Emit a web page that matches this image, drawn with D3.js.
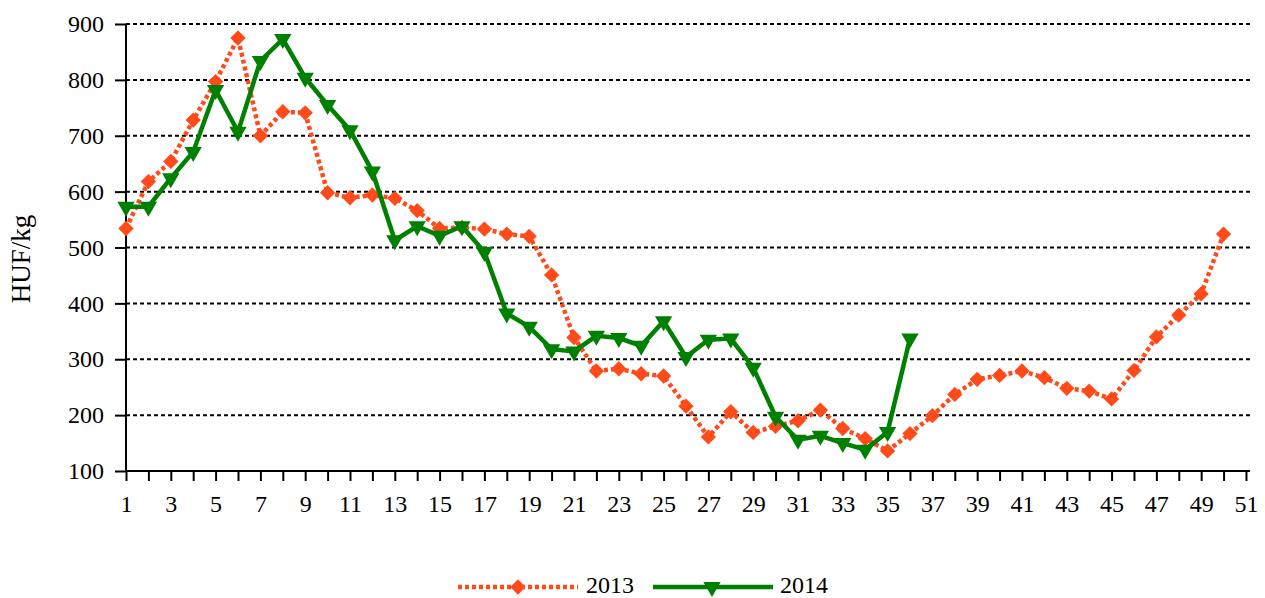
<!DOCTYPE html>
<html><head><meta charset="utf-8">
<script src="https://cdn.jsdelivr.net/npm/d3@7"></script>
<style>
html,body{margin:0;padding:0;background:#fff;}
text{font-family:"Liberation Serif","Times New Roman",Times,serif;fill:#000;}
</style></head>
<body><svg id="chart" width="1265" height="598"></svg>
<script>
const weeks2013 = d3.range(1, 51);
const values2013 = [534,618,654,728,797,875,700,743,741,598,
  589,594,588,566,534,536,533,524,520,451,
  339,279,283,274,270,216,161,206,169,180,
  190,209,176,158,136,167,199,237,264,271,
  279,267,248,243,229,280,340,379,417,524];
const weeks2014 = d3.range(1, 37);
const values2014 = [573,573,624,671,782,707,834,873,804,755,
  710,636,513,538,521,538,492,382,358,318,
  314,342,338,324,368,304,335,337,285,197,
  156,163,150,138,170,337];
const xTicks = d3.range(1, 52);
const xLabels = d3.range(1, 52, 2);
const yTicks = [100,200,300,400,500,600,700,800,900];
const seriesNames = ["2013", "2014"];

const svg = d3.select("#chart");
const x = d3.scaleLinear().domain([1, 51.18]).range([126, 1250]);
const y = d3.scaleLinear().domain([100, 900]).range([471, 24]);

// gridlines
svg.append("g").selectAll("line").data(yTicks.filter(d => d > 100)).join("line")
  .attr("x1", x(1)).attr("x2", x(51.18))
  .attr("y1", d => y(d)).attr("y2", d => y(d))
  .attr("stroke", "#000").attr("stroke-width", 2).attr("stroke-dasharray", "4,3");

// y axis
const yAxis = svg.append("g").attr("transform", `translate(${x(1)},0)`)
  .call(d3.axisLeft(y).tickValues(yTicks).tickSize(11).tickPadding(11).tickFormat(d3.format("d")));
yAxis.select(".domain").attr("stroke-width", 2).attr("d", `M0,${y(900)}V${y(100)}`);
yAxis.selectAll(".tick line").attr("stroke-width", 2);
yAxis.selectAll(".tick text").style("font-size", "24px").attr("font-family", null);

// x axis
const xAxis = svg.append("g").attr("transform", `translate(0,${y(100)})`)
  .call(d3.axisBottom(x).tickValues(xTicks).tickSize(10).tickPadding(14)
    .tickFormat(d => xLabels.includes(d) ? String(d) : ""));
xAxis.select(".domain").attr("stroke-width", 2).attr("d", `M${x(1)},0H${x(51.18)}`);
xAxis.selectAll(".tick line").attr("stroke-width", 2);
xAxis.selectAll(".tick text").style("font-size", "24px").attr("font-family", null);

// y label
svg.append("text").attr("transform", "translate(30,259) rotate(-90)")
  .attr("text-anchor", "middle").style("font-size", "27px").text("HUF/kg");

const orange = "#FF4A1A", green = "#008000";
const line = d3.line().x(d => x(d[0])).y(d => y(d[1]));
const d13 = weeks2013.map((w, i) => [w, values2013[i]]);
const d14 = weeks2014.map((w, i) => [w, values2014[i]]);

svg.append("path").datum(d13).attr("d", line).attr("fill", "none")
  .attr("stroke", orange).attr("stroke-width", 4.5).attr("stroke-dasharray", "4,3");
const diamond = d3.symbol().type(d3.symbolDiamond2).size(150);
svg.append("g").selectAll("path").data(d13).join("path")
  .attr("d", diamond).attr("fill", orange)
  .attr("transform", d => `translate(${x(d[0])},${y(d[1])})`);

svg.append("path").datum(d14).attr("d", line).attr("fill", "none")
  .attr("stroke", green).attr("stroke-width", 4.5).attr("stroke-linejoin", "miter");
const tri = d3.symbol().type(d3.symbolTriangle).size(130);
svg.append("g").selectAll("path").data(d14).join("path")
  .attr("d", tri).attr("fill", green)
  .attr("transform", d => `translate(${x(d[0])},${y(d[1])}) rotate(180)`);

// legend
const lg = svg.append("g");
const ly = 587;
lg.append("line").attr("x1", 458).attr("x2", 578).attr("y1", ly).attr("y2", ly)
  .attr("stroke", orange).attr("stroke-width", 4.5).attr("stroke-dasharray", "4,3");
lg.append("path").attr("d", diamond).attr("fill", orange).attr("transform", `translate(518,${ly})`);
lg.append("text").attr("x", 586).attr("y", 593).style("font-size", "24px").text(seriesNames[0]);
lg.append("line").attr("x1", 653).attr("x2", 773).attr("y1", ly).attr("y2", ly)
  .attr("stroke", green).attr("stroke-width", 4.5);
lg.append("path").attr("d", tri).attr("fill", green).attr("transform", `translate(712,${ly}) rotate(180)`);
lg.append("text").attr("x", 780).attr("y", 593).style("font-size", "24px").text(seriesNames[1]);
</script></body></html>
